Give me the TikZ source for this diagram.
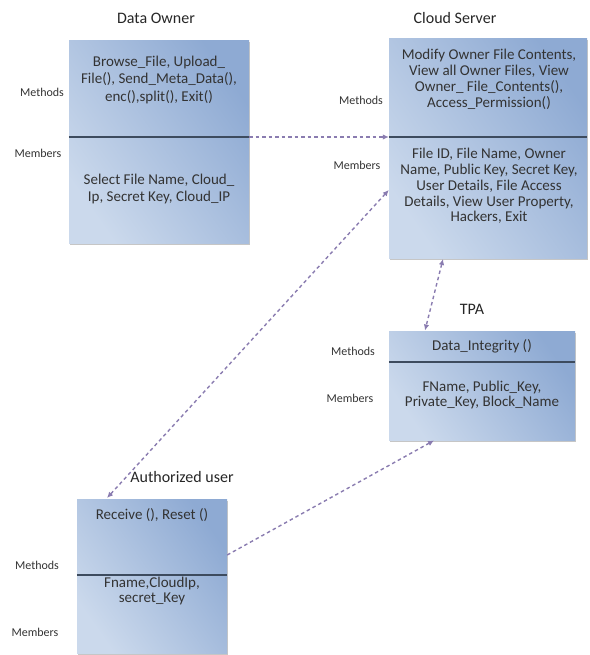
\documentclass[tikz,border=0pt]{standalone}
\usepackage{fontspec}
\setmainfont{Carlito}
\usetikzlibrary{shadows,arrows.meta}
\definecolor{boxlight}{HTML}{CBD9EC}
\definecolor{boxmid}{HTML}{EDF2F8}
\definecolor{boxdark}{HTML}{8EAAD3}
\definecolor{divline}{HTML}{3D4B5E}
\definecolor{conncol}{HTML}{8A7CB0}
\definecolor{txtcol}{HTML}{333333}
\tikzset{
  umlbox/.style={rectangle, draw=none, inner sep=0pt,
    left color=boxlight, middle color=boxmid, right color=boxdark, shading angle=125,
    drop shadow={shadow xshift=1.2pt, shadow yshift=-1.5pt, opacity=0.45, fill=gray}},
  divider/.style={draw=divline, line width=1.3pt},
  body/.style={text=txtcol, align=center, inner sep=0pt},
  titletxt/.style={font=\fontsize{16}{18}\selectfont, text=black!85, inner sep=0pt},
  sidelabel/.style={font=\fontsize{12}{14}\selectfont, text=black!80, inner sep=0pt},
  connline/.style={draw=conncol, line width=1.4pt, dash pattern=on 3.5pt off 3pt},
  headend/.style={-{Latex[length=6pt,width=5.5pt]}},
  headboth/.style={{Latex[length=6pt,width=5.5pt]}-{Latex[length=6pt,width=5.5pt]}}
}
\begin{document}
\begin{tikzpicture}[x=1pt,y=-1pt]
\useasboundingbox (0,0) rectangle (589,655);

% boxes
\node[umlbox, minimum width=180pt, minimum height=202pt] (do) at (159,142) {};
\node[umlbox, minimum width=198pt, minimum height=219pt] (cs) at (488,148.5) {};
\node[umlbox, minimum width=186pt, minimum height=109pt] (tpa) at (482,385.5) {};
\node[umlbox, minimum width=150pt, minimum height=154pt] (au) at (152,576) {};

% dividers
\coordinate (doL) at (do.west |- 0,137);
\coordinate (doR) at (do.east |- 0,137);
\coordinate (csL) at (cs.west |- 0,137);
\coordinate (csR) at (cs.east |- 0,137);
\coordinate (tpaL) at (tpa.west |- 0,362);
\coordinate (tpaR) at (tpa.east |- 0,362);
\coordinate (auL) at (au.west |- 0,575);
\coordinate (auR) at (au.east |- 0,575);
\draw[divider] (doL) -- (doR);
\draw[divider] (csL) -- (csR);
\draw[divider] (tpaL) -- (tpaR);
\draw[divider] (auL) -- (auR);

% titles
\node[titletxt] (tdo) at (156,18) {Data Owner};
\node[titletxt] (tcs) at (455,18) {Cloud Server};
\node[titletxt] (ttpa) at (472,309) {TPA};
\node[titletxt] (tau) at (182,477) {Authorized user};

% side labels
\node[sidelabel] (ldom) at (42,92) {Methods};
\node[sidelabel] (ldoe) at (38,153) {Members};
\node[sidelabel] (lcsm) at (361,100) {Methods};
\node[sidelabel] (lcse) at (357,165) {Members};
\node[sidelabel] (ltpam) at (353,351) {Methods};
\node[sidelabel] (ltpae) at (350,398) {Members};
\node[sidelabel] (laum) at (37,565) {Methods};
\node[sidelabel] (laue) at (35,632) {Members};

% body texts
\node[body, font=\fontsize{15}{17.5}\selectfont] (bdom) at (159,80) {Browse\_File, Upload\_\\File(), Send\_Meta\_Data(),\\enc(),split(), Exit()};
\node[body, font=\fontsize{15}{17.5}\selectfont] (bdoe) at (159,189) {Select File Name, Cloud\_\\Ip, Secret Key, Cloud\_IP};
\node[body, font=\fontsize{15}{16}\selectfont] (bcsm) at (489,79.5) {Modify Owner File Contents,\\View all Owner Files, View\\Owner\_ File\_Contents(),\\Access\_Permission()};
\node[body, font=\fontsize{15}{15.8}\selectfont] (bcse) at (489,186) {File ID, File Name, Owner\\Name, Public Key, Secret Key,\\User Details, File Access\\Details, View User Property,\\Hackers, Exit};
\node[body, font=\fontsize{15}{16}\selectfont] (btpam) at (482,346.5) {Data\_Integrity ()};
\node[body, font=\fontsize{15}{15.5}\selectfont] (btpae) at (482,395) {FName, Public\_Key,\\Private\_Key, Block\_Name};
\node[body, font=\fontsize{15}{16}\selectfont] (baum) at (152,515.5) {Receive (), Reset ()};
\node[body, font=\fontsize{15}{15.5}\selectfont] (baue) at (152,591) {Fname,CloudIp,\\secret\_Key};

% connector end points
\coordinate (c2a) at (cs.west |- 0,190);
\coordinate (c2b) at (107,498);
\coordinate (c3a) at (443,259);
\coordinate (c3b) at (425,330.5);
\coordinate (c4a) at (au.east |- 0,555);
\coordinate (c4b) at (434,440.5);

\draw[connline, headend] (doR) -- (csL);
\draw[connline, headboth] (c2a) -- (c2b);
\draw[connline, headboth] (c3a) -- (c3b);
\draw[connline, headend] (c4a) -- (c4b);
\end{tikzpicture}
\end{document}
